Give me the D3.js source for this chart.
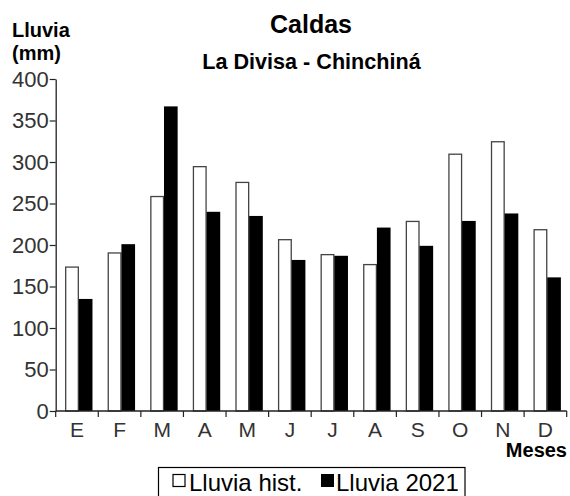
<!DOCTYPE html>
<html><head><meta charset="utf-8">
<script src="https://cdn.jsdelivr.net/npm/d3@7"></script>
<style>
html,body{margin:0;padding:0;background:#fff;overflow:hidden}
svg{display:block;font-family:"Liberation Sans",Arial,sans-serif}
</style></head>
<body><svg id="c" width="570" height="496"></svg>
<script>
const months = ["E","F","M","A","M","J","J","A","S","O","N","D"];
const histValues = [174, 191, 259, 295, 276, 207, 189, 177, 229, 310, 325, 219];
const values2021 = [135, 201, 367, 240, 235, 182, 187, 221, 199, 229, 238, 161];
const seriesNames = ["Lluvia hist.", "Lluvia 2021"];
const yTicks = [0, 50, 100, 150, 200, 250, 300, 350, 400];

const svg = d3.select("#c");
const idx = d3.range(months.length);
const x = d3.scaleBand().domain(idx).range([55.7, 566.7]).padding(0);
const sub = d3.scaleBand().domain([0, 1]).range([0, x.bandwidth()])
  .paddingInner(0).paddingOuter(0.56).align(0.62);
const y = d3.scaleLinear().domain([0, 400]).range([411, 79]);

// bars
const g = svg.append("g");
g.selectAll("rect.h").data(idx).join("rect").attr("class", "h")
  .attr("x", i => x(i) + sub(0) + 0.5)
  .attr("y", i => y(histValues[i]) + 0.5)
  .attr("width", sub.bandwidth() - 1)
  .attr("height", i => y(0) - y(histValues[i]) - 0.5)
  .attr("fill", "#fff").attr("stroke", "#444").attr("stroke-width", 1.3);
g.selectAll("rect.n").data(idx).join("rect").attr("class", "n")
  .attr("x", i => x(i) + sub(1))
  .attr("y", i => y(values2021[i]))
  .attr("width", sub.bandwidth())
  .attr("height", i => y(0) - y(values2021[i]))
  .attr("fill", "#000");

// y axis
const ya = svg.append("g").attr("transform", "translate(55.7,0)")
  .call(d3.axisLeft(y).tickValues(yTicks).tickSize(6).tickSizeOuter(0).tickPadding(1));
ya.select(".domain").attr("stroke", "#222").attr("stroke-width", 1.3);
ya.selectAll(".tick line").attr("stroke", "#222").attr("stroke-width", 1.2);
ya.selectAll(".tick text").attr("font-size", 22).attr("fill", "#333")
  .attr("font-family", "Liberation Sans, Arial, sans-serif");

// x axis
const xa = svg.append("g");
xa.append("line").attr("x1", x.range()[0]).attr("x2", x.range()[1])
  .attr("y1", y(0)).attr("y2", y(0)).attr("stroke", "#222").attr("stroke-width", 1.3);
const edges = idx.map(i => x(i)).concat([x.range()[1]]);
xa.selectAll("line.t").data(edges).join("line").attr("class", "t")
  .attr("x1", d => d).attr("x2", d => d).attr("y1", y(0)).attr("y2", y(0) + 6)
  .attr("stroke", "#222").attr("stroke-width", 1.2);
xa.selectAll("text").data(idx).join("text")
  .attr("x", i => x(i) + x.bandwidth() / 2).attr("y", 437)
  .attr("text-anchor", "middle").attr("font-size", 21).attr("fill", "#333")
  .text(i => months[i]);

// titles
svg.append("text").attr("x", 311).attr("y", 33).attr("text-anchor", "middle")
  .attr("font-size", 25).attr("font-weight", "bold").text("Caldas");
svg.append("text").attr("x", 311.5).attr("y", 69).attr("text-anchor", "middle")
  .attr("font-size", 21.6).attr("font-weight", "bold").text("La Divisa - Chinchiná");
svg.append("text").attr("x", 12).attr("y", 37)
  .attr("font-size", 20).attr("font-weight", "bold").text("Lluvia");
svg.append("text").attr("x", 12).attr("y", 60)
  .attr("font-size", 20).attr("font-weight", "bold").text("(mm)");
svg.append("text").attr("x", 567).attr("y", 457).attr("text-anchor", "end")
  .attr("font-size", 20).attr("font-weight", "bold").text("Meses");

// legend
const lg = svg.append("g");
lg.append("rect").attr("x", 158.5).attr("y", 467.5).attr("width", 306.5).attr("height", 40)
  .attr("fill", "#fff").attr("stroke", "#000").attr("stroke-width", 1.2);
lg.append("rect").attr("x", 173).attr("y", 474.5).attr("width", 12).attr("height", 12)
  .attr("fill", "#fff").attr("stroke", "#000").attr("stroke-width", 1.2);
lg.append("text").attr("x", 189).attr("y", 491).attr("font-size", 24).text(seriesNames[0]);
lg.append("rect").attr("x", 321).attr("y", 474).attr("width", 13).attr("height", 13).attr("fill", "#000");
lg.append("text").attr("x", 336).attr("y", 491).attr("font-size", 24).text(seriesNames[1]);
</script></body></html>
